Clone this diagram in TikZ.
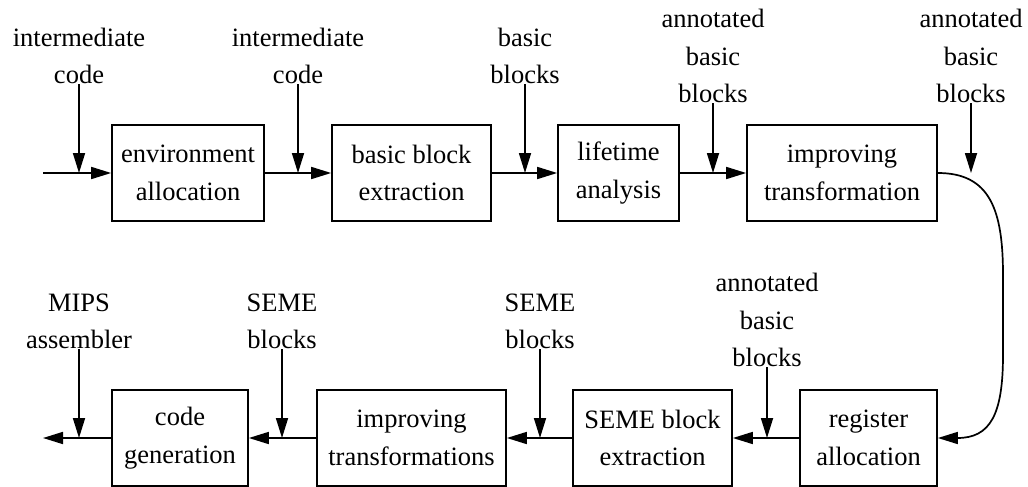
\documentclass[tikz,border=0pt]{standalone}
\usepackage{fontspec}
\setmainfont{Liberation Serif}
\usetikzlibrary{arrows.meta}
\begin{document}
\begin{tikzpicture}[x=1pt,y=-1pt,
  every node/.style={font=\fontsize{26.5}{37.5}\selectfont, align=center},
  procbox/.style={draw, line width=1.7pt, minimum height=96pt, inner sep=0pt},
  lbl/.style={anchor=south, inner sep=0pt},
  flow/.style={line width=1.7pt, -{Triangle[length=20pt,width=12pt]}},
  plain/.style={line width=1.7pt}
]
\useasboundingbox (0,0) rectangle (1028,487);
% top row boxes
\node[procbox, minimum width=152pt] (env) at (188,173) {environment\\allocation};
\node[procbox, minimum width=159pt] (bbe) at (411.5,173) {basic block\\extraction};
\node[procbox, minimum width=121pt] (life) at (618.5,173) {lifetime\\analysis};
\node[procbox, minimum width=190pt] (impt) at (842,173) {improving\\transformation};
% bottom row boxes
\node[procbox, minimum width=136pt] (cg) at (180,438) {code\\generation};
\node[procbox, minimum width=189pt] (impts) at (411.5,438) {improving\\transformations};
\node[procbox, minimum width=159pt] (sbe) at (652.5,438) {SEME block\\extraction};
\node[procbox, minimum width=137pt] (reg) at (868.5,438) {register\\allocation};
% labels top
\node[lbl] (l1) at (79,84) {intermediate\\code};
\node[lbl] (l2) at (298,84) {intermediate\\code};
\node[lbl] (l3) at (525,84) {basic\\blocks};
\node[lbl] (l4) at (713,103) {annotated\\basic\\blocks};
\node[lbl] (l5) at (971,103) {annotated\\basic\\blocks};
% labels bottom
\node[lbl] (l6) at (79,349) {MIPS\\assembler};
\node[lbl] (l7) at (282,349) {SEME\\blocks};
\node[lbl] (l8) at (540,349) {SEME\\blocks};
\node[lbl] (l9) at (767,367) {annotated\\basic\\blocks};
% junction coordinates
\coordinate (in) at (43,173);
\coordinate (out) at (43,438);
\coordinate (j1) at (79,173);
\coordinate (j2) at (298,173);
\coordinate (j3) at (525,173);
\coordinate (j4) at (713,173);
\coordinate (j5) at (971,173);
\coordinate (j6) at (79,438);
\coordinate (j7) at (282,438);
\coordinate (j8) at (540,438);
\coordinate (j9) at (767,438);
% main flow
\draw[flow] (in) -- (env.west);
\draw[flow] (env.east) -- (bbe.west);
\draw[flow] (bbe.east) -- (life.west);
\draw[flow] (life.east) -- (impt.west);
\draw[flow] (impt.east) .. controls (990,173) and (1003,210) .. (1003,275)
  -- (1003,355) .. controls (1003,415) and (990,438) .. (reg.east);
\draw[flow] (reg.west) -- (sbe.east);
\draw[flow] (sbe.west) -- (impts.east);
\draw[flow] (impts.west) -- (cg.east);
\draw[flow] (cg.west) -- (out);
% inputs
\draw[flow] (l1.south) -- (j1);
\draw[flow] (l2.south) -- (j2);
\draw[flow] (l3.south) -- (j3);
\draw[flow] (l4.south) -- (j4);
\draw[flow] (l5.south) -- (j5);
\draw[flow] (l6.south) -- (j6);
\draw[flow] (l7.south) -- (j7);
\draw[flow] (l8.south) -- (j8);
\draw[flow] (l9.south) -- (j9);
\end{tikzpicture}
\end{document}
